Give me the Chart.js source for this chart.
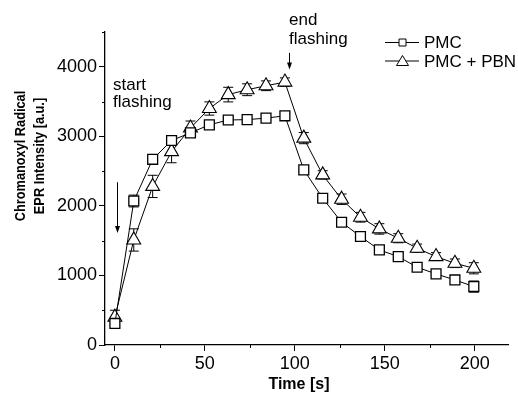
<!DOCTYPE html>
<html>
<head>
<meta charset="utf-8">
<script src="https://cdn.jsdelivr.net/npm/chart.js@4.4.0/dist/chart.umd.min.js"></script>
<style>
  html, body { margin: 0; padding: 0; background: #fff; }
  #wrap { width: 518px; height: 393px; }
</style>
</head>
<body>
<div id="wrap"><canvas id="myChart"></canvas></div>
<script>
// time axis (s)
const times = [0, 10.5, 21, 31.5, 42, 52.5, 63, 73.5, 84, 94.5, 105, 115.5, 126, 136.5, 147, 157.5, 168, 178.5, 189, 199.5];
// PMC
const pmc = [310, 2070, 2670, 2940, 3050, 3165, 3235, 3240, 3262, 3295, 2518, 2110, 1765, 1560, 1367, 1271, 1118, 1022, 935, 840];
const pmcErr = [40, 85, 40, 40, 40, 50, 20, 25, 40, 30, 30, 30, 30, 30, 30, 30, 40, 35, 40, 80];
// PMC + PBN
const pmcPbn = [400, 1510, 2280, 2780, 3120, 3400, 3600, 3670, 3727, 3780, 2974, 2446, 2096, 1837, 1669, 1535, 1391, 1271, 1175, 1103];
const pmcPbnErr = [100, 160, 160, 160, 100, 95, 105, 85, 70, 60, 80, 60, 75, 70, 75, 65, 60, 57, 62, 80];

const seriesLabels = ["PMC", "PMC + PBN"];
const xTicks = [0, 50, 100, 150, 200];
const yTicks = [0, 1000, 2000, 3000, 4000];
const xMinorTicks = [25, 75, 125, 175];
const yMinorTicks = [500, 1500, 2500, 3500, 4500];

const FONT = "'Liberation Sans', Arial, sans-serif";

const toPoints = (ys) => times.map((t, i) => ({ x: t, y: ys[i] }));

const extras = {
  id: "extras",
  beforeDatasetsDraw(chart) {
    const ctx = chart.ctx;
    const ys = chart.scales.y;
    const errs = [pmcErr, pmcPbnErr];
    ctx.save();
    ctx.strokeStyle = "#000";
    ctx.lineWidth = 1;
    chart.data.datasets.forEach((ds, d) => {
      const meta = chart.getDatasetMeta(d);
      meta.data.forEach((pt, i) => {
        const v = ds.data[i].y;
        const top = ys.getPixelForValue(v + errs[d][i]);
        const bot = ys.getPixelForValue(v - errs[d][i]);
        ctx.beginPath();
        ctx.moveTo(pt.x, top); ctx.lineTo(pt.x, bot);
        ctx.moveTo(pt.x - 5, top); ctx.lineTo(pt.x + 5, top);
        ctx.moveTo(pt.x - 5, bot); ctx.lineTo(pt.x + 5, bot);
        ctx.stroke();
      });
    });
    ctx.restore();
  },
  afterDraw(chart) {
    const ctx = chart.ctx;
    const xs = chart.scales.x, ys = chart.scales.y;
    const area = chart.chartArea;
    ctx.save();
    ctx.strokeStyle = "#000";
    ctx.fillStyle = "#000";
    ctx.lineWidth = 1;

    // minor ticks
    ctx.beginPath();
    xMinorTicks.forEach(v => {
      const px = Math.round(xs.getPixelForValue(v)) + 0.5;
      ctx.moveTo(px, area.bottom); ctx.lineTo(px, area.bottom + 3);
    });
    yMinorTicks.forEach(v => {
      const py = Math.round(ys.getPixelForValue(v)) + 0.5;
      ctx.moveTo(area.left, py); ctx.lineTo(area.left - 3, py);
    });
    ctx.stroke();

    // axis titles
    ctx.font = "bold 14.5px " + FONT;
    ctx.textAlign = "center";
    ctx.textBaseline = "middle";
    [["Chromanoxyl Radical", 21], ["EPR Intensity [a.u.]", 40]].forEach(([t, x]) => {
      ctx.save();
      ctx.translate(x, 156);
      ctx.rotate(-Math.PI / 2);
      ctx.scale(0.88, 1);
      ctx.fillText(t, 0, 0);
      ctx.restore();
    });

    ctx.font = "bold 16px " + FONT;
    ctx.textBaseline = "alphabetic";
    ctx.fillText("Time [s]", (area.left + area.right) / 2 - 8, 389);

    // annotations
    ctx.font = "17px " + FONT;
    ctx.textAlign = "left";
    ctx.fillText("start", 113, 90);
    ctx.fillText("flashing", 113, 107);
    ctx.fillText("end", 289, 25);
    ctx.fillText("flashing", 289, 44);

    const arrow = (xv, y0, y1) => {
      const px = Math.round(xs.getPixelForValue(xv)) + 0.5;
      const p0 = ys.getPixelForValue(y0), p1 = ys.getPixelForValue(y1);
      ctx.beginPath();
      ctx.moveTo(px, p0); ctx.lineTo(px, p1 - 4);
      ctx.stroke();
      ctx.beginPath();
      ctx.moveTo(px - 2.5, p1 - 7); ctx.lineTo(px + 2.5, p1 - 7); ctx.lineTo(px, p1);
      ctx.closePath();
      ctx.fill();
    };
    arrow(1, 2340, 1610);
    arrow(96.5, 4200, 3960);

    // legend
    const rows = [42.5, 61];
    rows.forEach((ly, k) => {
      ctx.beginPath();
      ctx.moveTo(385, ly); ctx.lineTo(419, ly);
      ctx.stroke();
      ctx.beginPath();
      if (k === 0) {
        ctx.rect(399, ly - 3.5, 7, 7);
      } else {
        ctx.moveTo(402.5, ly - 5.5); ctx.lineTo(408.5, ly + 4.5); ctx.lineTo(396.5, ly + 4.5); ctx.closePath();
      }
      ctx.fillStyle = "#fff";
      ctx.fill();
      ctx.stroke();
      ctx.fillStyle = "#000";
      ctx.font = "17px " + FONT;
      ctx.textBaseline = "middle";
      ctx.fillText(seriesLabels[k], 424, ly + 1);
    });
    ctx.restore();
  }
};

const ctx = document.getElementById("myChart");

new Chart(ctx, {
  type: "line",
  data: {
    datasets: [
      {
        label: seriesLabels[0],
        data: toPoints(pmc),
        borderColor: "#000",
        borderWidth: 1,
        pointStyle: "rect",
        pointRadius: 7,
        pointBorderWidth: 1.3,
        pointBackgroundColor: "#fff",
        pointBorderColor: "#000",
        tension: 0,
      },
      {
        label: seriesLabels[1],
        data: toPoints(pmcPbn),
        borderColor: "#000",
        borderWidth: 1,
        pointStyle: "triangle",
        pointRadius: 8,
        pointBorderWidth: 1.1,
        pointBackgroundColor: "#fff",
        pointBorderColor: "#000",
        tension: 0,
      },
    ],
  },
  options: {
    responsive: true,
    maintainAspectRatio: false,
    animation: false,
    layout: { padding: { top: 32, right: 0, left: 0, bottom: 0 } },
    plugins: {
      legend: { display: false },
      tooltip: { enabled: false },
    },
    scales: {
      x: {
        type: "linear",
        min: -5.5,
        max: 219,
        afterFit(scale) { scale.height = 48; },
        afterBuildTicks(scale) { scale.ticks = xTicks.map(v => ({ value: v })); },
        grid: { drawOnChartArea: false, tickLength: 6, tickColor: "#000", tickWidth: 1 },
        border: { color: "#000", width: 1.3 },
        ticks: {
          color: "#000",
          padding: 2,
          maxRotation: 0,
          autoSkip: false,
          callback: (v) => String(v),
          font: { family: FONT, size: 18 },
        },
      },
      y: {
        min: 0,
        max: 4500,
        afterFit(scale) { scale.width = 105; },
        afterBuildTicks(scale) { scale.ticks = yTicks.map(v => ({ value: v })); },
        grid: { drawOnChartArea: false, tickLength: 6, tickColor: "#000", tickWidth: 1 },
        border: { color: "#000", width: 1.3 },
        ticks: {
          color: "#000",
          padding: 2,
          autoSkip: false,
          callback: (v) => String(v),
          font: { family: FONT, size: 18 },
        },
      },
    },
  },
  plugins: [extras],
});
</script>
</body>
</html>
